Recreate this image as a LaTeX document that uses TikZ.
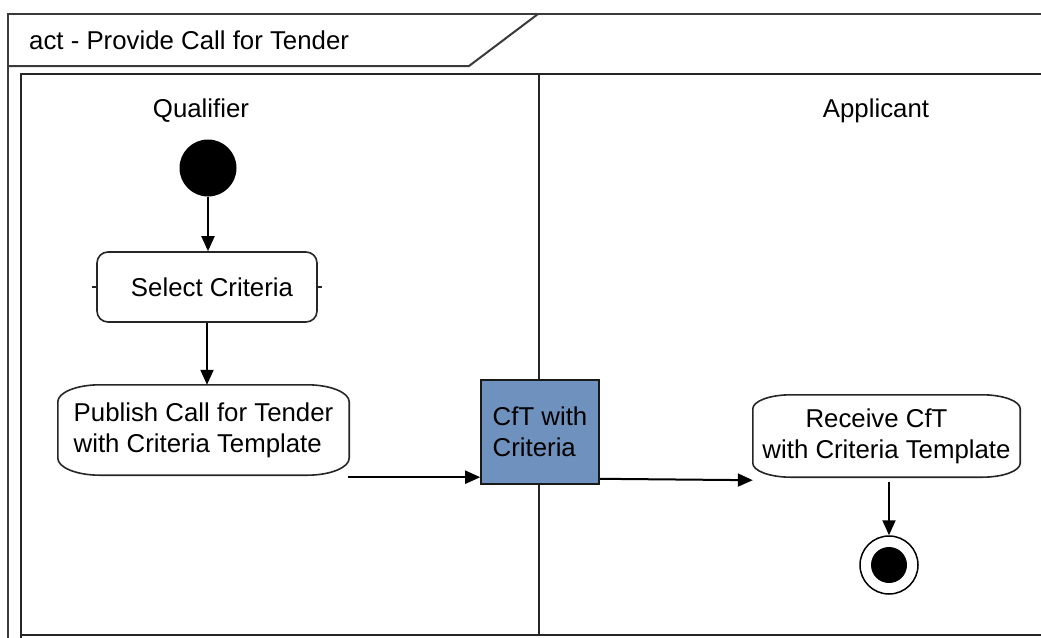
\documentclass[tikz,border=0pt]{standalone}
\usepackage{fontspec}
\setmainfont{Liberation Sans}
\usetikzlibrary{arrows.meta,calc}
\definecolor{framegray}{HTML}{3A3A3A}
\definecolor{cftblue}{HTML}{6E91BE}
\newcommand\softbox[3]{%
 \draw[actline] ($(#1.north west)+(#2,0)$) -- ($(#1.north east)+(-#2,0)$)
  .. controls ($(#1.north east)+(-0.45*#2,0)$) and ($(#1.north east)+(0,0.45*#3)$) .. ($(#1.north east)+(0,#3)$)
  -- ($(#1.south east)+(0,-#3)$)
  .. controls ($(#1.south east)+(0,-0.45*#3)$) and ($(#1.south east)+(-0.45*#2,0)$) .. ($(#1.south east)+(-#2,0)$)
  -- ($(#1.south west)+(#2,0)$)
  .. controls ($(#1.south west)+(0.45*#2,0)$) and ($(#1.south west)+(0,-0.45*#3)$) .. ($(#1.south west)+(0,-#3)$)
  -- ($(#1.north west)+(0,#3)$)
  .. controls ($(#1.north west)+(0,0.45*#3)$) and ($(#1.north west)+(0.45*#2,0)$) .. cycle;}
\begin{document}
\begin{tikzpicture}[x=1pt,y=-1pt,
  font=\fontsize{25.8}{31}\selectfont,
  frameline/.style={draw=framegray,line width=2pt},
  laneline/.style={draw=black!85,line width=2pt},
  actline/.style={draw=black!85,line width=1.6pt},
  flow/.style={draw=black,line width=2pt,-{Triangle[length=15pt,width=13pt]}},
  lanelabel/.style={inner sep=0pt},
  actnode/.style={inner sep=0pt,draw=none}]
\useasboundingbox (0,0) rectangle (1041,637);
\clip (0,0) rectangle (1041,637);
\fill[white] (0,0) rectangle (1041,637);
% outer frame and header tab
\draw[frameline] (1060,14) -- (8,14) -- (8,660);
\draw[frameline] (8,66) -- (469,66) -- (538,14);
\node[anchor=west,inner sep=0pt] (title) at (29,40) {act - Provide Call for Tender};
% swimlanes
\draw[laneline] (21,660) -- (21,74) -- (1060,74);
\draw[laneline] (21,635) -- (1060,635);
\draw[laneline] (539,74) -- (539,635);
\node[lanelabel] (qual) at (201,111) {Qualifier};
\node[lanelabel] (appl) at (876,111) {Applicant};
% nodes
\node[circle,fill=black,minimum size=57pt,inner sep=0pt] (init) at (208,168) {};
\node[actnode,draw=black!85,line width=1.6pt,rounded corners=11pt,minimum width=220pt,minimum height=70pt] (sel) at (207,287) {\hspace*{10pt}Select Criteria};
\draw[actline] ($(sel.west)+(-4,0)$) -- (sel.west);
\draw[actline] (sel.east) -- ($(sel.east)+(4,0)$);
\node[actnode,align=left,minimum width=291pt,minimum height=90pt] (pub) at (203.5,430) {Publish Call for Tender\\with Criteria Template};
\softbox{pub}{42}{17}
\node[draw=black!90,line width=1.6pt,fill=cftblue,align=left,inner sep=0pt,minimum width=118pt,minimum height=104pt] (cft) at (540,432) {CfT with\\Criteria};
\node[actnode,align=center,minimum width=267pt,minimum height=82pt] (rec) at (886.5,436) {Receive CfT\hspace*{20pt}\\with Criteria Template};
\softbox{rec}{38}{14}
\node[circle,draw=black,line width=1.5pt,minimum size=58pt,inner sep=0pt] (fin) at (889,565) {};
\fill[black] (fin.center) circle[radius=18];
% connectors
\draw[flow] (init.south) -- (init.south |- sel.north);
\draw[flow] (sel.south) -- (sel.south |- pub.north);
\coordinate (p1) at ($(pub.south east)+(-1,2)$);
\draw[flow] (p1) -- (cft.west |- p1);
\coordinate (c1) at ($(cft.south east)+(0,-6)$);
\coordinate (r1) at ($(rec.south west)+(0,3)$);
\draw[flow] (c1) -- (r1);
\coordinate (r2) at ($(fin.north |- rec.south)+(0,5)$);
\draw[flow] (r2) -- (fin.north);
\end{tikzpicture}
\end{document}
